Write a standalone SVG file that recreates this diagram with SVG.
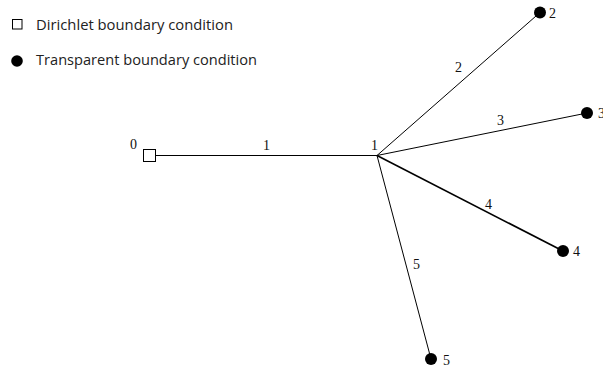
<svg xmlns="http://www.w3.org/2000/svg" width="603" height="371" viewBox="0 0 603 371">
<style>
.lg{font-family:"Open Sans","Liberation Sans",sans-serif;font-size:14.5px;fill:#222}
.num{font-family:"Liberation Serif","Times New Roman",serif;font-size:14px;fill:#111}
.edge{stroke:#000;stroke-width:1;fill:none}
.sq{fill:#fff;stroke:#000;stroke-width:1}
.dot{fill:#000}
</style>
<rect width="603" height="371" fill="#fff"/>
<g id="legend">
<rect class="sq" x="12.5" y="19.5" width="9.5" height="9.5"/>
<text class="lg" x="36" y="30" textLength="197" lengthAdjust="spacingAndGlyphs">Dirichlet boundary condition</text>
<circle class="dot" cx="17" cy="61" r="5.8"/>
<text class="lg" x="36" y="65" textLength="221" lengthAdjust="spacingAndGlyphs">Transparent boundary condition</text>
</g>
<g id="connectors">
<line class="edge" x1="155.5" y1="155.5" x2="377" y2="155.5"/>
<line class="edge" x1="377" y1="155.5" x2="540" y2="12.5"/>
<line class="edge" x1="377" y1="155.5" x2="587" y2="113"/>
<line class="edge" x1="377" y1="155.5" x2="563" y2="251" style="stroke-width:1.6"/>
<line class="edge" x1="377" y1="155.5" x2="431" y2="359"/>
<text class="num" x="263" y="150">1</text>
<text class="num" x="455" y="72">2</text>
<text class="num" x="497" y="125">3</text>
<text class="num" x="485" y="209">4</text>
<text class="num" x="413" y="269">5</text>
</g>
<g id="node0">
<rect class="sq" x="143.5" y="149.5" width="12" height="12"/>
<text class="num" x="130" y="149">0</text>
</g>
<g id="node1">
<text class="num" x="371" y="150">1</text>
</g>
<g id="node2">
<circle class="dot" cx="540" cy="12.5" r="6"/>
<text class="num" x="549" y="18">2</text>
</g>
<g id="node3">
<circle class="dot" cx="587" cy="113" r="6"/>
<text class="num" x="598" y="118">3</text>
</g>
<g id="node4">
<circle class="dot" cx="563" cy="251" r="6"/>
<text class="num" x="573" y="256">4</text>
</g>
<g id="node5">
<circle class="dot" cx="431" cy="359" r="6"/>
<text class="num" x="443" y="365">5</text>
</g>
</svg>
